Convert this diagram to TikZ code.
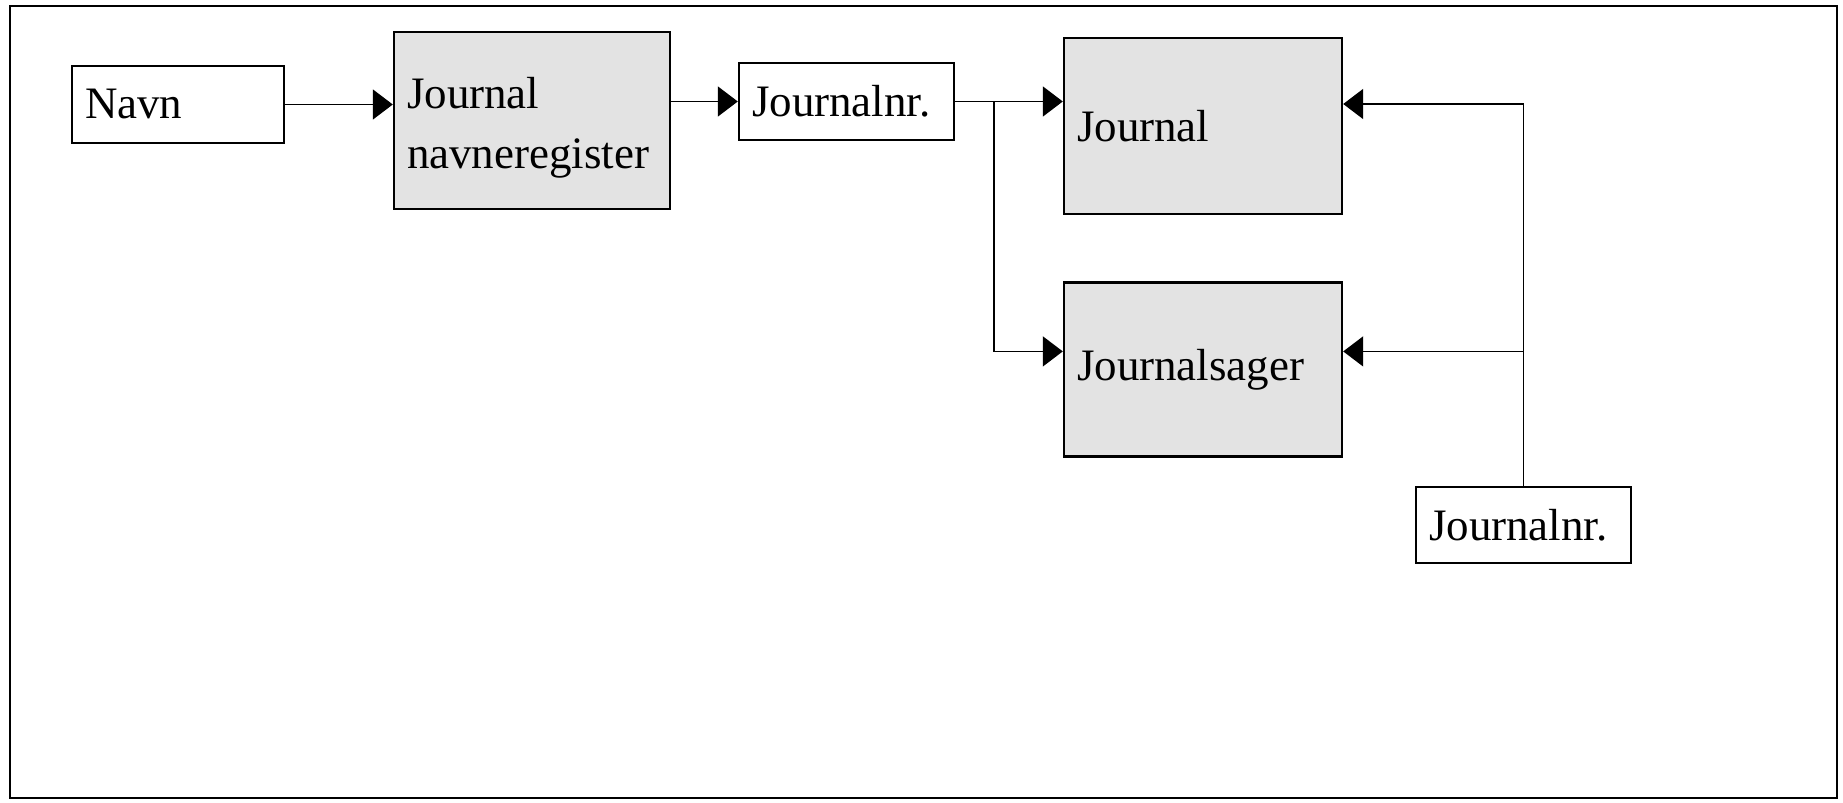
\documentclass[tikz,border=0pt]{standalone}
\usepackage{fontspec}
\setmainfont{Liberation Serif}
\usetikzlibrary{arrows.meta,positioning}

\definecolor{boxgray}{RGB}{227,227,227}

\tikzset{
  box/.style={draw, line width=1.4pt, inner xsep=0.26cm, inner ysep=0pt,
              align=left, font=\fontsize{25.6}{34}\selectfont},
  shaded/.style={box, fill=boxgray},
  link/.style={line width=0.9pt, -{Triangle[length=0.4cm,width=0.6cm]}}
}

\begin{document}
\begin{tikzpicture}[x=0.02cm, y=-0.02cm]
  \useasboundingbox (0,0) rectangle (1843,803);
  \draw[line width=1.6pt] (10,6) rectangle (1837,798);

  \node[box,    text width=3.72cm, minimum height=1.54cm] (navn)    at (178,104.5)  {Navn};
  \node[shaded, text width=5.00cm, minimum height=3.54cm] (jnreg)   at (532,120.5)  {\rule{0pt}{0.9cm}Journal\\navneregister};
  \node[box,    text width=3.78cm, minimum height=1.54cm] (jnr1)    at (846.5,101.5) {Journalnr.};
  \node[shaded, text width=5.04cm, minimum height=3.52cm] (journal) at (1203,126)   {Journal};
  \node[shaded, text width=5.04cm, minimum height=3.48cm] (jsager)  [below=1.32cm of journal] {Journalsager};
  \node[box,    text width=3.78cm, minimum height=1.52cm] (jnr2)    at (1523.5,525) {Journalnr.};

  \coordinate (split) at ([xshift=0.78cm]jnr1.east);
  \coordinate (lowL)  at ([yshift=0.36cm]jsager.west);
  \coordinate (upR)   at ([yshift=0.44cm]journal.east);
  \coordinate (lowR)  at ([yshift=0.36cm]jsager.east);

  \draw[link] (navn.east) -- (navn.east -| jnreg.west);
  \draw[link] (jnreg.east |- jnr1.west) -- (jnr1.west);
  \draw[link] (jnr1.east) -- (jnr1.east -| journal.west);
  \draw[link] (split) |- (lowL);
  \draw[link] (jnr2.north) |- (upR);
  \draw[link] (jnr2.north |- lowR) -- (lowR);
\end{tikzpicture}
\end{document}
